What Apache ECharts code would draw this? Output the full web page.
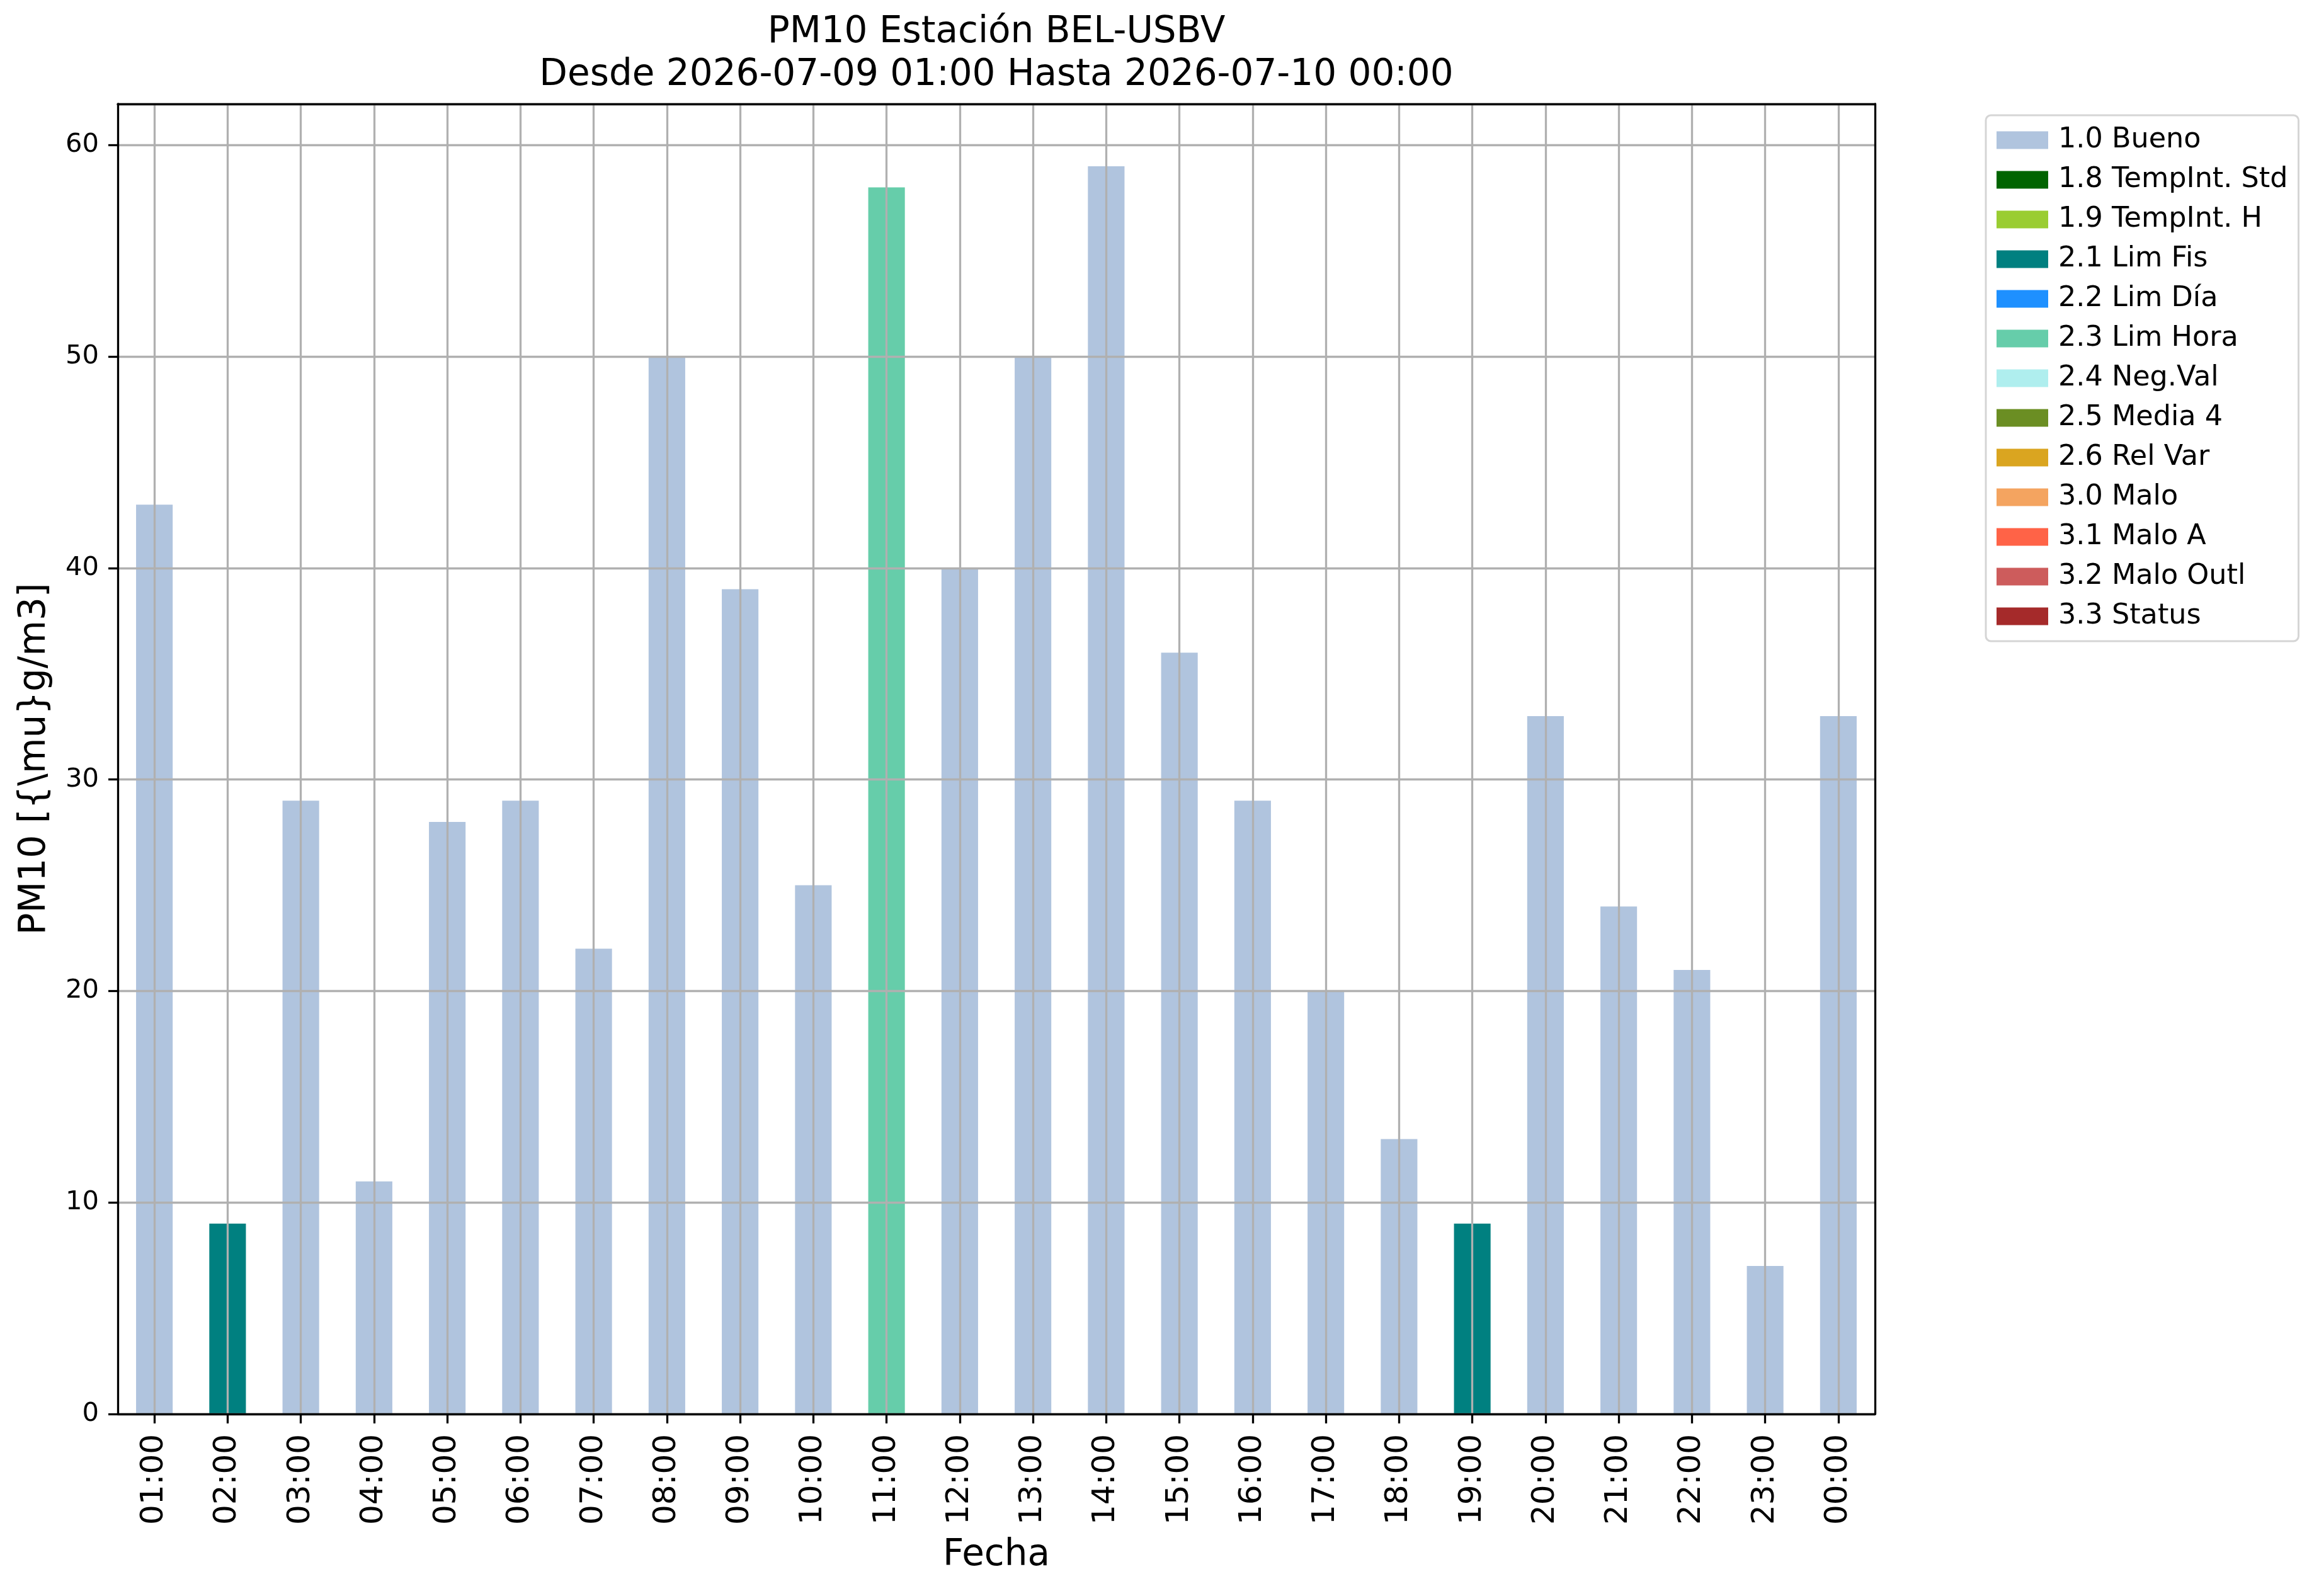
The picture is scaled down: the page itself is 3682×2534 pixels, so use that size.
<!DOCTYPE html>
<html>
<head>
<meta charset="utf-8">
<script src="https://cdn.jsdelivr.net/npm/echarts@6/dist/echarts.min.js"></script>
<style>
html,body{margin:0;padding:0;background:#fff;}
#chart{width:3682px;height:2534px;}
</style>
</head>
<body>
<div id="chart"></div>
<script>
// ---- data ----
const hours = ['01:00','02:00','03:00','04:00','05:00','06:00','07:00','08:00','09:00','10:00','11:00','12:00',
               '13:00','14:00','15:00','16:00','17:00','18:00','19:00','20:00','21:00','22:00','23:00','00:00'];
const pm10 = [43, 9, 29, 11, 28, 29, 22, 50, 39, 25, 58, 40, 50, 59, 36, 29, 20, 13, 9, 33, 24, 21, 7, 33];
const flags = ['1.0 Bueno','2.1 Lim Fis','1.0 Bueno','1.0 Bueno','1.0 Bueno','1.0 Bueno','1.0 Bueno','1.0 Bueno',
               '1.0 Bueno','1.0 Bueno','2.3 Lim Hora','1.0 Bueno','1.0 Bueno','1.0 Bueno','1.0 Bueno','1.0 Bueno',
               '1.0 Bueno','1.0 Bueno','2.1 Lim Fis','1.0 Bueno','1.0 Bueno','1.0 Bueno','1.0 Bueno','1.0 Bueno'];
const categoriesFlags = ['1.0 Bueno','1.8 TempInt. Std','1.9 TempInt. H','2.1 Lim Fis','2.2 Lim Día','2.3 Lim Hora',
                         '2.4 Neg.Val','2.5 Media 4','2.6 Rel Var','3.0 Malo','3.1 Malo A','3.2 Malo Outl','3.3 Status'];
const flagColors = ['#B0C4DE','#006400','#9ACD32','#008080','#1E90FF','#66CDAA',
                    '#AFEEEE','#6B8E23','#DAA520','#F4A460','#FF6347','#CD5C5C','#A52A2A'];
const titleLines = ['PM10 Estación BEL-USBV', 'Desde 2026-07-09 01:00 Hasta 2026-07-10 00:00'];

// ---- chart ----
const chart = echarts.init(document.getElementById('chart'), null, {renderer:'canvas'});
const FONT = 'DejaVu Sans';
const G = {left:187, right:705, top:165, bottom:289};

const series = categoriesFlags.map((f, i) => ({
  name: f,
  type: 'bar',
  stack: 'total',
  barWidth: '50%',
  itemStyle: {color: flagColors[i]},
  data: pm10.map((v, k) => flags[k] === f ? v : '-'),
  z: 2
}));

chart.setOption({
  animation: false,
  backgroundColor: '#ffffff',
  textStyle: {fontFamily: FONT, color: '#000'},
  graphic: [
    {type:'text', x: 1582, y: 52, z: 10,
     style:{text: titleLines[0], font: '58px "DejaVu Sans"', fill:'#000', textAlign:'center', textVerticalAlign:'middle'}},
    {type:'text', x: 1582, y: 120, z: 10,
     style:{text: titleLines[1], font: '58px "DejaVu Sans"', fill:'#000', textAlign:'center', textVerticalAlign:'middle'}}
  ],
  grid: {left: G.left, right: G.right, top: G.top, bottom: G.bottom, containLabel: false, show: false},
  legend: {
    orient: 'vertical',
    left: 3153, top: 183,
    padding: [17, 17, 17, 17],
    itemWidth: 82, itemHeight: 28, itemGap: 18,
    icon: 'rect',
    backgroundColor: '#ffffff',
    borderColor: '#d5d5d5', borderWidth: 3, borderRadius: 8,
    selectedMode: false,
    textStyle: {fontFamily: FONT, fontSize: 44.5, lineHeight: 45, color: '#000', padding: [0,0,0,11]},
    data: categoriesFlags
  },
  xAxis: [{
    type: 'category',
    data: hours,
    z: 4,
    boundaryGap: true,
    name: 'Fecha',
    nameLocation: 'middle',
    nameGap: 196,
    nameTextStyle: {fontFamily: FONT, fontSize: 58, color: '#000'},
    axisLine: {show: true, lineStyle: {color: '#000', width: 3.3}},
    axisTick: {show: true, alignWithLabel: true, length: 15, lineStyle: {color: '#000', width: 3.3}},
    axisLabel: {show: true, rotate: 90, margin: 32, fontFamily: FONT, fontSize: 50, color: '#000', interval: 0},
    splitLine: {show: true, alignWithLabel: true, interval: 0, lineStyle: {color: '#b0b0b0', width: 3.3}}
  }, {
    type: 'category',
    data: hours,
    position: 'top',
    z: 6,
    axisLine: {show: true, onZero: false, lineStyle: {color: '#000', width: 3.3}},
    axisTick: {show: false},
    axisLabel: {show: false},
    splitLine: {show: false}
  }],
  yAxis: [{
    type: 'value',
    min: 0, max: 61.95, interval: 10,
    z: 3,
    name: 'PM10 [{\\mu}g/m3]',
    nameLocation: 'middle',
    nameGap: 102,
    nameTextStyle: {fontFamily: FONT, fontSize: 58, color: '#000'},
    axisLine: {show: true, lineStyle: {color: '#000', width: 3.3}},
    axisTick: {show: true, length: 15, lineStyle: {color: '#000', width: 3.3}},
    axisLabel: {show: true, margin: 30, fontFamily: FONT, fontSize: 41.7, color: '#000', showMaxLabel: false,
                formatter: v => (v % 10 === 0 ? String(v) : '')},
    splitLine: {show: true, lineStyle: {color: '#b0b0b0', width: 3.3}}
  }, {
    type: 'value',
    min: 0, max: 61.95, interval: 10,
    position: 'right',
    z: 6,
    axisLine: {show: true, lineStyle: {color: '#000', width: 3.3}},
    axisTick: {show: false},
    axisLabel: {show: false},
    splitLine: {show: false}
  }],
  series: series
});
</script>
</body>
</html>
